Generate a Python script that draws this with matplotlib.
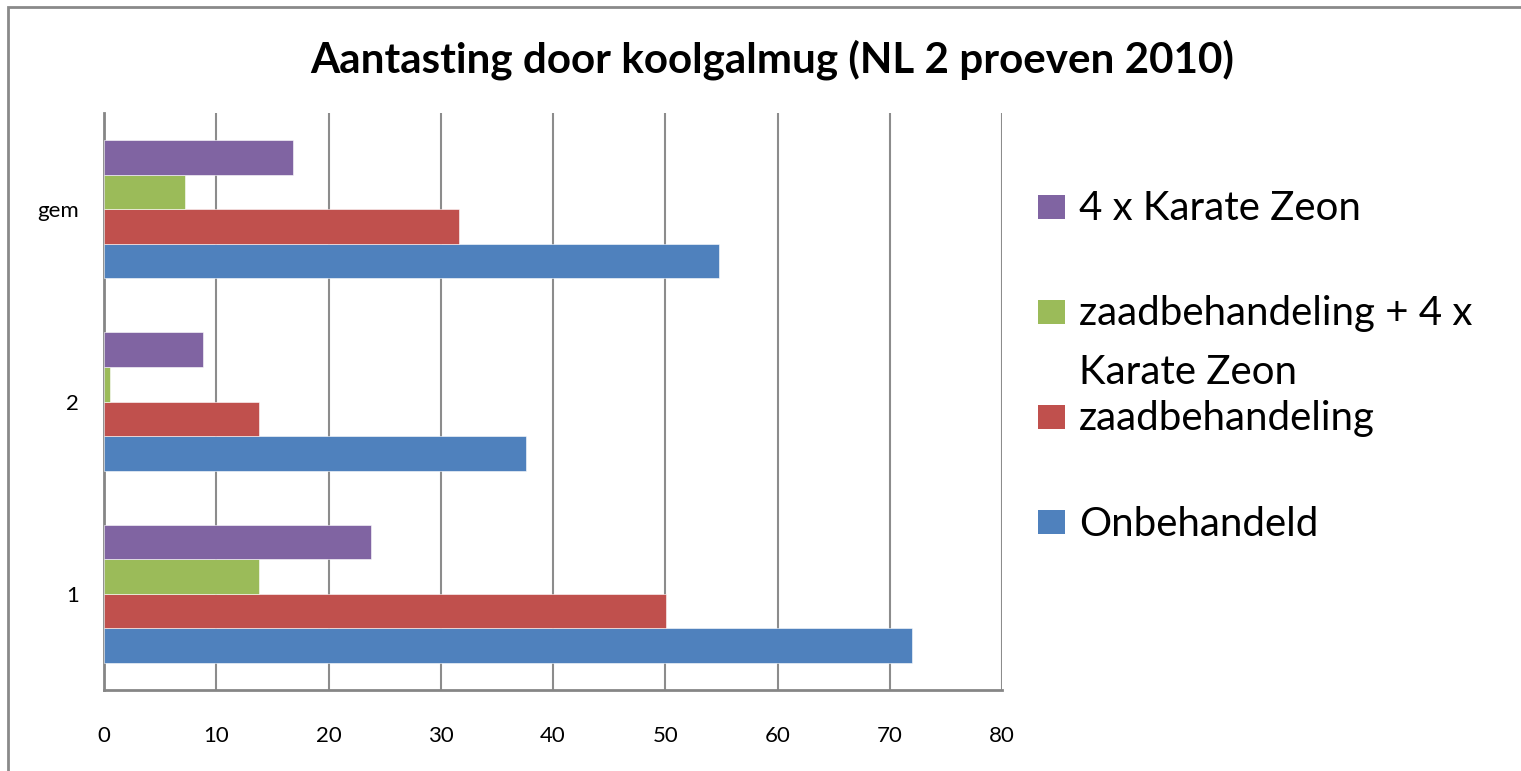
import matplotlib
matplotlib.use("Agg")
import matplotlib.pyplot as plt
from matplotlib.patches import Rectangle
import numpy as np

categories = ["1", "2", "gem"]
series_names = ["Onbehandeld", "zaadbehandeling", "zaadbehandeling + 4 x\nKarate Zeon", "4 x Karate Zeon"]
onbehandeld = [72.0, 37.6, 54.8]
zaadbehandeling = [50.1, 13.8, 31.6]
zaad_karate = [13.8, 0.5, 7.2]
karate = [23.8, 8.8, 16.8]
colors = ["#4F81BD", "#C0504D", "#9BBB59", "#8064A2"]
xticks = [0, 10, 20, 30, 40, 50, 60, 70, 80]
title = "Aantasting door koolgalmug (NL 2 proeven 2010)"

plt.rcParams['font.family'] = ['Lato', 'DejaVu Sans']

fig = plt.figure(figsize=(15.21, 7.71), dpi=100)
ax = fig.add_axes([104/1521, 1-690/771, (1002-104)/1521, (690-113)/771])

data = [onbehandeld, zaadbehandeling, zaad_karate, karate]
h = 0.18
y = np.arange(len(categories))
for k, (vals, c) in enumerate(zip(data, colors)):
    ax.barh(y + (k - 1.5) * h, vals, height=h, color=c, edgecolor="white", linewidth=0.4, zorder=3)

ax.set_xlim(0, 80)
ax.set_ylim(-0.5, 2.5)
ax.set_xticks(xticks)
ax.set_xticklabels([str(t) for t in xticks], fontsize=16)
ax.set_yticks(y)
ax.set_yticklabels(categories, fontsize=16)
ax.tick_params(length=0)
ax.tick_params(axis='x', pad=26)
ax.tick_params(axis='y', pad=18)
ax.grid(axis='x', color="#8c8c8c", linewidth=1.5, zorder=0)
ax.spines["top"].set_visible(False)
ax.spines["right"].set_visible(False)
for s in ["left", "bottom"]:
    ax.spines[s].set_color("#868686")
    ax.spines[s].set_linewidth(2)

fig.text(772/1521, 1-60/771, title, ha="center", va="center", fontsize=30.3, fontweight="bold")

# legend (manual, matching Excel layout)
leg_y = [522, 417, 312, 207]
for name, c, yy in zip(series_names, colors, leg_y):
    fig.patches.append(Rectangle((1038/1521, 1-(yy+12)/771), 27/1521, 24/771,
                                 transform=fig.transFigure, facecolor=c, edgecolor="none"))
    first = name.split("\n")[0]
    fig.text(1079/1521, 1-(yy+2)/771, first, ha="left", va="center", fontsize=29)
    for j, line in enumerate(name.split("\n")[1:], start=1):
        fig.text(1079/1521, 1-(yy+2+58*j)/771, line, ha="left", va="center", fontsize=29)

# outer chart border
fig.patches.append(Rectangle((8/1521, -0.1), 1.2, 1.1 - 7/771,
                             transform=fig.transFigure, facecolor="none",
                             edgecolor="#8a8a8a", linewidth=2, clip_on=False))

fig.savefig("out.png", dpi=100)
